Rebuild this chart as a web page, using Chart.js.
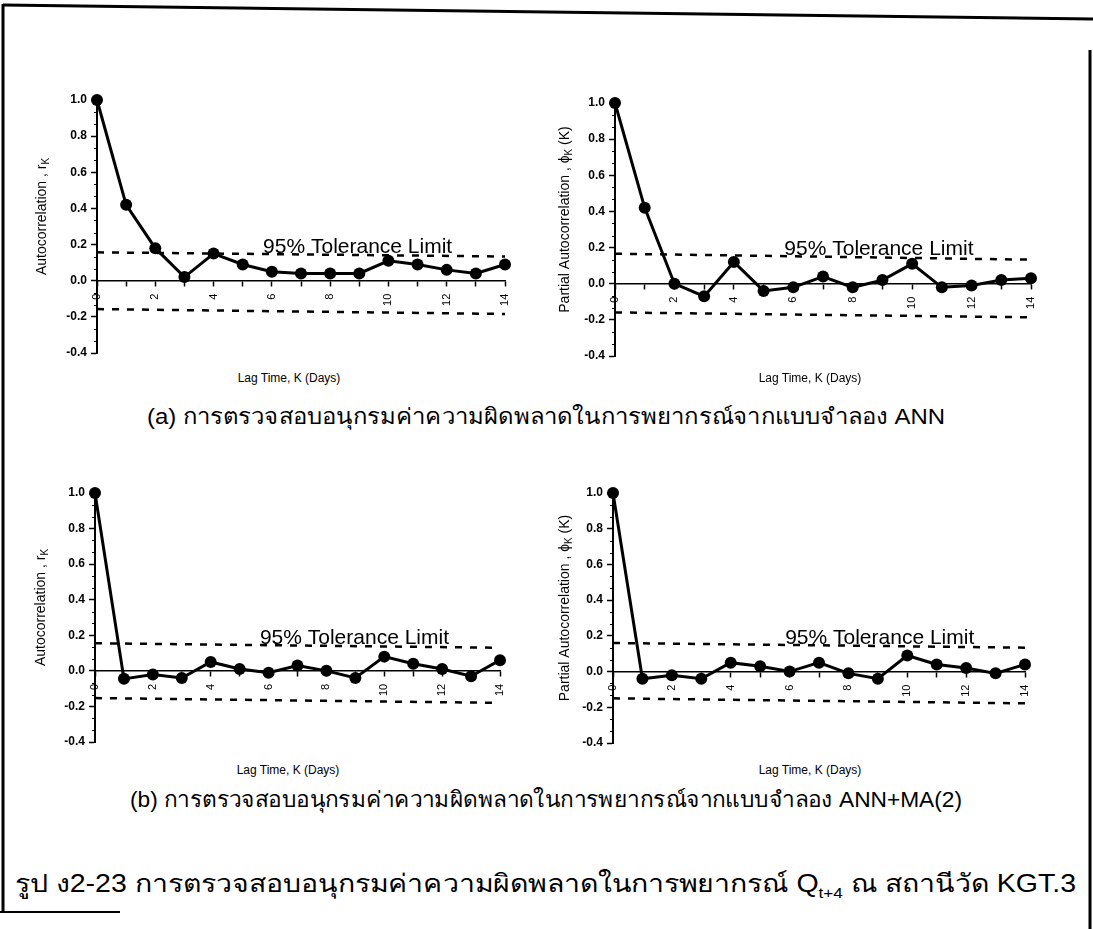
<!DOCTYPE html>
<html>
<head>
<meta charset="utf-8">
<script src="https://cdn.jsdelivr.net/npm/chart.js@4.4.0/dist/chart.umd.min.js"></script>
<style>
  html, body { margin: 0; padding: 0; background: #fff; }
  body { width: 1093px; height: 929px; position: relative; overflow: hidden;
         font-family: "Liberation Sans", Arial, sans-serif; color: #000; }
  canvas { position: absolute; }
  .xtitle { position: absolute; font-size: 12px; white-space: nowrap; transform: translateX(-50%); }
  .cap { position: absolute; white-space: nowrap; transform-origin: 0 50%; }
  #frame { position: absolute; left: 0; top: 0; }
</style>
</head>
<body>
<svg id="frame" width="1093" height="929">
  <line x1="3" y1="5" x2="1093" y2="19" stroke="#000" stroke-width="3"/>
  <line x1="3" y1="4" x2="3" y2="913" stroke="#000" stroke-width="3"/>
  <line x1="1090" y1="50" x2="1090" y2="929" stroke="#000" stroke-width="3"/>
  <line x1="0" y1="912" x2="120" y2="912" stroke="#000" stroke-width="2"/>
</svg>

<canvas id="acfAnnChart" width="530" height="290" style="left:0px;top:80px"></canvas>
<canvas id="pacfAnnChart" width="520" height="295" style="left:540px;top:80px"></canvas>
<canvas id="acfMaChart" width="530" height="290" style="left:0px;top:470px"></canvas>
<canvas id="pacfMaChart" width="520" height="290" style="left:540px;top:470px"></canvas>

<div class="xtitle" style="left:289px;top:371px">Lag Time, K (Days)</div>
<div class="xtitle" style="left:810px;top:371px">Lag Time, K (Days)</div>
<div class="xtitle" style="left:288px;top:763px">Lag Time, K (Days)</div>
<div class="xtitle" style="left:810px;top:763px">Lag Time, K (Days)</div>

<div class="cap" data-w="798" style="left:147px;top:399px;font-size:22px">(a) การตรวจสอบอนุกรมค่าความผิดพลาดในการพยากรณ์จากแบบจำลอง ANN</div>
<div class="cap" data-w="832" style="left:130px;top:782px;font-size:22px">(b) การตรวจสอบอนุกรมค่าความผิดพลาดในการพยากรณ์จากแบบจำลอง ANN+MA(2)</div>
<div class="cap" data-w="1061" style="left:15px;top:863px;font-size:25px">รูป ง2-23 การตรวจสอบอนุกรมค่าความผิดพลาดในการพยากรณ์ Q<sub style="font-size:15px">t+4</sub> ณ สถานีวัด KGT.3</div>

<script>
// Lag axis (days)
const lags = [0, 1, 2, 3, 4, 5, 6, 7, 8, 9, 10, 11, 12, 13, 14];
const lagTickLabels = [0, 2, 4, 6, 8, 10, 12, 14];
const corrTicks = [-0.4, -0.2, 0.0, 0.2, 0.4, 0.6, 0.8, 1.0];

// Residual autocorrelation / partial autocorrelation, ANN model
const acfAnn  = [1.00, 0.42, 0.18, 0.02, 0.15, 0.09, 0.05, 0.04, 0.04, 0.04, 0.11, 0.09, 0.06, 0.04, 0.09];
const pacfAnn = [1.00, 0.42, 0.00, -0.07, 0.12, -0.04, -0.02, 0.04, -0.02, 0.02, 0.11, -0.02, -0.01, 0.02, 0.03];

// Residual autocorrelation / partial autocorrelation, ANN+MA(2) model
const acfAnnMa  = [1.00, -0.045, -0.02, -0.04, 0.05, 0.01, -0.01, 0.03, 0.00, -0.04, 0.08, 0.04, 0.01, -0.03, 0.06];
const pacfAnnMa = [1.00, -0.04, -0.02, -0.04, 0.05, 0.03, 0.00, 0.05, -0.01, -0.04, 0.09, 0.04, 0.02, -0.01, 0.04];

// 95% tolerance limits at lag 0 and lag 14
const tolUpperAcfAnn   = [0.157, 0.134];
const tolLowerAcfAnn   = [-0.157, -0.184];
const tolUpperPacfAnn  = [0.166, 0.133];
const tolLowerPacfAnn  = [-0.159, -0.186];
const tolUpperAcfMa    = [0.155, 0.130];
const tolLowerAcfMa    = [-0.153, -0.180];
const tolUpperPacfMa   = [0.160, 0.134];
const tolLowerPacfMa   = [-0.150, -0.178];

const BASE_FONT = '"Liberation Sans", Arial, sans-serif';

// Stretch each caption line to its column width
document.querySelectorAll('.cap').forEach(el => {
  const w = el.getBoundingClientRect().width;
  el.style.transform = 'scaleX(' + (Number(el.dataset.w) / w) + ')';
});

// Draws the y-axis title (with subscript), minor y ticks and the tolerance label
const decor = {
  id: 'decor',
  afterDraw(chart) {
    const o = chart.options.plugins.decor;
    const {ctx, chartArea} = chart;
    const ys = chart.scales.y, xs = chart.scales.x;
    ctx.save();
    ctx.strokeStyle = '#000';
    ctx.lineWidth = 1;
    // minor ticks
    for (let i = 0; i < corrTicks.length - 1; i++) {
      const a = corrTicks[i], b = corrTicks[i + 1];
      for (let j = 1; j < 3; j++) {
        const py = Math.round(ys.getPixelForValue(a + (b - a) * j / 3)) + 0.5;
        ctx.beginPath();
        ctx.moveTo(chartArea.left - 3, py);
        ctx.lineTo(chartArea.left, py);
        ctx.stroke();
      }
    }
    // tolerance label
    ctx.fillStyle = '#000';
    ctx.font = '21px ' + BASE_FONT;
    ctx.textBaseline = 'alphabetic';
    ctx.textAlign = 'left';
    const tx = o.labelLag;
    const tHi = o.tolHi[0] + (o.tolHi[1] - o.tolHi[0]) * tx / 14;
    ctx.fillText('95% Tolerance Limit', xs.getPixelForValue(tx), ys.getPixelForValue(tHi) - 1);
    // y-axis title
    const parts = o.yTitle;
    const mainFont = '14px ' + BASE_FONT;
    const subFont = '10px ' + BASE_FONT;
    let total = 0;
    parts.forEach(p => { ctx.font = p.sub ? subFont : mainFont; total += ctx.measureText(p.t).width; });
    ctx.translate(chartArea.left - o.titleOffset, (chartArea.top + chartArea.bottom) / 2 - o.titleShift);
    ctx.rotate(-Math.PI / 2);
    let x = -total / 2;
    parts.forEach(p => {
      ctx.font = p.sub ? subFont : mainFont;
      ctx.fillText(p.t, x, p.sub ? 8 : 5);
      x += ctx.measureText(p.t).width;
    });
    ctx.restore();
  }
};

function makeChart(id, values, tolHi, tolLo, cfg) {
  return new Chart(document.getElementById(id), {
    type: 'line',
    data: {
      datasets: [
        {
          data: lags.map((k, i) => ({x: k, y: values[i]})),
          borderColor: '#000', backgroundColor: '#000',
          borderWidth: 3, pointRadius: 6, pointBorderWidth: 0,
          pointBackgroundColor: '#000', tension: 0, clip: false, order: 0
        },
        {
          data: [{x: 0, y: tolHi[0]}, {x: 14, y: tolHi[1]}],
          borderColor: '#000', borderWidth: 2.5, borderDash: [7, 8],
          pointRadius: 0, clip: false, order: 1
        },
        {
          data: [{x: 0, y: tolLo[0]}, {x: 14, y: tolLo[1]}],
          borderColor: '#000', borderWidth: 2.5, borderDash: [7, 8],
          pointRadius: 0, clip: false, order: 1
        }
      ]
    },
    options: {
      responsive: false,
      animation: false,
      devicePixelRatio: 1,
      layout: {padding: {top: cfg.pt, right: cfg.pr, bottom: cfg.pb, left: 0}},
      plugins: {
        legend: {display: false},
        tooltip: {enabled: false},
        decor: {tolHi: tolHi, yTitle: cfg.yTitle, labelLag: cfg.labelLag, titleOffset: cfg.titleOffset, titleShift: cfg.titleShift}
      },
      scales: {
        x: {
          type: 'linear', min: 0, max: 14, position: {y: 0},
          grid: {drawOnChartArea: false, drawTicks: true, tickLength: 5, color: '#000', tickWidth: 1.5},
          border: {display: true, color: '#000', width: 1.5},
          ticks: {
            stepSize: 1, autoSkip: false, minRotation: 90, maxRotation: 90, padding: 8,
            color: '#000', font: {size: 11, family: BASE_FONT},
            callback: v => lagTickLabels.includes(v) ? String(v) : ''
          }
        },
        y: {
          type: 'linear', min: -0.4, max: 1.0,
          afterFit: s => { s.width = cfg.w; },
          afterBuildTicks: s => { s.ticks = corrTicks.map(v => ({value: v})); },
          grid: {drawOnChartArea: false, drawTicks: true, tickLength: 6, color: '#000', tickWidth: 1.5},
          border: {display: true, color: '#000', width: 2},
          ticks: {
            color: '#000', padding: 4, font: {size: 12, weight: 'bold', family: BASE_FONT},
            callback: v => (Math.abs(v) < 1e-9 ? 0 : v).toFixed(1)
          }
        }
      }
    },
    plugins: [decor]
  });
}

const acfTitle = [{t: 'Autocorrelation , r'}, {t: 'K', sub: true}];
const pacfTitle = [{t: 'Partial Autocorrelation , ϕ'}, {t: 'K', sub: true}, {t: ' (K)'}];

makeChart('acfAnnChart', acfAnn, tolUpperAcfAnn, tolLowerAcfAnn,
  {w: 97, pt: 20, pb: 17, pr: 25, yTitle: acfTitle, labelLag: 5.7, titleOffset: 56, titleShift: 10});
makeChart('pacfAnnChart', pacfAnn, tolUpperPacfAnn, tolLowerPacfAnn,
  {w: 75, pt: 23, pb: 19, pr: 29, yTitle: pacfTitle, labelLag: 5.7, titleOffset: 51, titleShift: 10});
makeChart('acfMaChart', acfAnnMa, tolUpperAcfMa, tolLowerAcfMa,
  {w: 95, pt: 23, pb: 18, pr: 30, yTitle: acfTitle, labelLag: 5.7, titleOffset: 55, titleShift: 10});
makeChart('pacfMaChart', pacfAnnMa, tolUpperPacfMa, tolLowerPacfMa,
  {w: 73, pt: 23, pb: 17, pr: 35, yTitle: pacfTitle, labelLag: 5.85, titleOffset: 49, titleShift: 10});
</script>
</body>
</html>
